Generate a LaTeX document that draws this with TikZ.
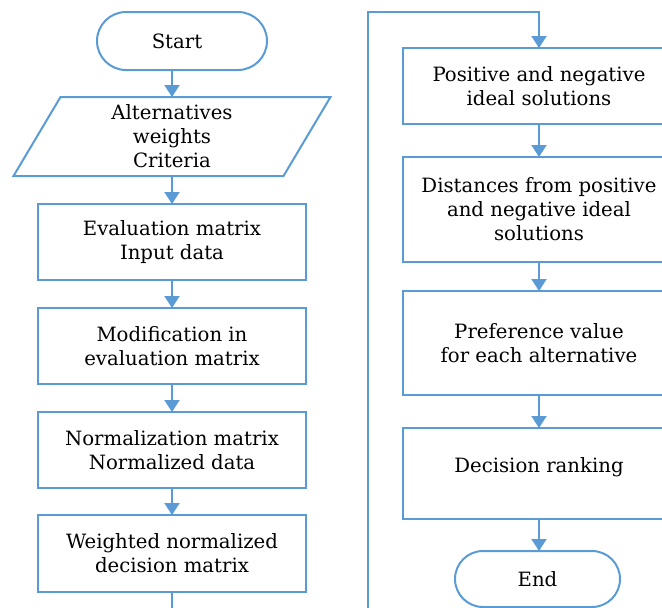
\documentclass[tikz,border=0pt]{standalone}
\usepackage{fontspec}
\setmainfont{DejaVu Serif}
\usetikzlibrary{arrows.meta,shapes.misc,calc}
\definecolor{flowblue}{RGB}{91,155,213}
\begin{document}
\begin{tikzpicture}[x=1pt,y=-1pt,
  every node/.style={font=\fontsize{19.7}{24}\selectfont, align=center, inner sep=0pt, outer sep=0pt},
  procbox/.style={draw=flowblue, line width=2pt, minimum width=268pt},
  term/.style={draw=flowblue, line width=2pt, rounded rectangle},
  flowline/.style={draw=flowblue, line width=2pt},
  flowarrow/.style={flowline, -{Triangle[width=15pt,length=12pt]}}]
\useasboundingbox (0,0) rectangle (662,608);
\clip (0,0) rectangle (662,608);
% left column
\node[term, minimum width=170pt, minimum height=58pt] (start) at (182,41) {\hspace*{-10pt}Start};
\node[minimum width=270pt, minimum height=79pt] (inp) at (172,136.5) {Alternatives\\weights\\Criteria};
\draw[flowline] ($(inp.north west)+(23.5,0)$) -- ($(inp.north east)+(23.5,0)$) -- ($(inp.south east)+(-23.5,0)$) -- ($(inp.south west)+(-23.5,0)$) -- cycle;
\node[procbox, minimum height=76pt] (eval) at (172,242) {Evaluation matrix\\Input data};
\node[procbox, minimum height=76pt] (mod) at (172,346) {Modification in\\evaluation matrix};
\node[procbox, minimum height=76pt] (norm) at (172,450) {Normalization matrix\\Normalized data};
\node[procbox, minimum height=77pt] (wnd) at (172,553.5) {Weighted normalized\\decision matrix};
% right column
\node[procbox, minimum width=272pt, minimum height=76pt] (pos) at (539,86) {Positive and negative\\ideal solutions};
\node[procbox, minimum width=272pt, minimum height=105pt] (dist) at (539,209.5) {Distances from positive\\and negative ideal\\solutions};
\node[procbox, minimum width=272pt, minimum height=104pt] (pref) at (539,343) {Preference value\\for each alternative};
\node[procbox, minimum width=272pt, minimum height=91pt] (dec) at (539,473.5) {};
\node (dectext) at ($(dec.center)+(0,-6.5)$) {Decision ranking};
\node[term, minimum width=165pt, minimum height=56pt] (end) at (537.5,579) {End};
% connectors
\draw[flowarrow] (start.south -| inp.north) -- (inp.north);
\draw[flowarrow] (inp.south) -- (eval.north);
\draw[flowarrow] (eval.south) -- (mod.north);
\draw[flowarrow] (mod.south) -- (norm.north);
\draw[flowarrow] (norm.south) -- (wnd.north);
\coordinate (lb) at (368,625);
\coordinate (lt) at (368,12);
\draw[flowarrow] (wnd.south) |- (lb) -- (lt) -| (pos.north);
\draw[flowarrow] (pos.south) -- (dist.north);
\draw[flowarrow] (dist.south) -- (pref.north);
\draw[flowarrow] (pref.south) -- (dec.north);
\draw[flowarrow] (dec.south) -- (dec.south |- end.north);
\end{tikzpicture}
\end{document}
